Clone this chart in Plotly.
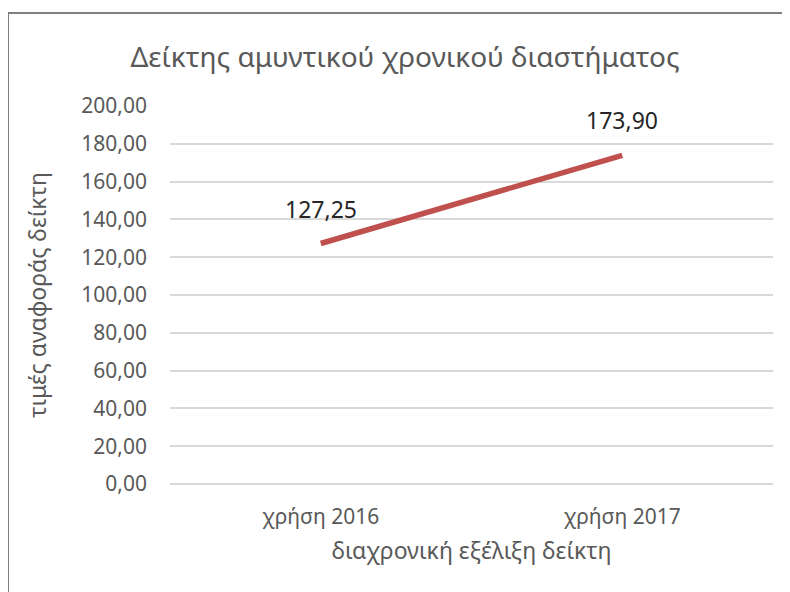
import plotly.graph_objects as go

categories = ["χρήση 2016", "χρήση 2017"]
values = [127.25, 173.90]
y_ticks = [0, 20, 40, 60, 80, 100, 120, 140, 160, 180, 200]

W, H = 790, 592
# page body adds ~8px offset, so figure coords are shifted
L, R, T, B = 162, 25, 98, 116
pw, ph = W - L - R, H - T - B

FONT = "Noto Sans"
GRAY = "#595959"

fig = go.Figure()
fig.add_trace(go.Scatter(
    x=categories, y=values, mode="lines",
    line=dict(color="#C0504D", width=5.5),
    hoverinfo="skip", showlegend=False,
))

for c, v in zip(categories, values):
    fig.add_annotation(
        x=c, y=v, text=f"{v:.2f}".replace(".", ","),
        showarrow=False, yshift=35,
        font=dict(family=FONT, size=23, color="#262626"),
    )

def px_x(p):
    return (p - L) / pw

def px_y(p):
    return 1 - (p - T) / ph

fig.add_shape(
    type="rect", xref="paper", yref="paper",
    x0=px_x(0), x1=px_x(820), y0=px_y(5), y1=px_y(620),
    line=dict(color="#7f7f7f", width=2), fillcolor="rgba(0,0,0,0)", layer="below",
)

fig.update_layout(
    width=W, height=H,
    margin=dict(l=L, r=R, t=T, b=B, autoexpand=False),
    paper_bgcolor="white", plot_bgcolor="white",
    separators=",.",
    font=dict(family=FONT, color=GRAY),
    title=dict(
        text="Δείκτης αμυντικού χρονικού διαστήματος",
        xref="container", x=397 / W, xanchor="center",
        yref="container", y=1 - 49 / H, yanchor="middle",
        font=dict(family=FONT, size=28, color=GRAY),
    ),
    xaxis=dict(
        type="category", range=[-0.5, 1.5],
        showgrid=False, showline=False, zeroline=False, ticks="",
        ticklabelstandoff=18,
        tickfont=dict(family=FONT, size=21, color=GRAY),
        title=dict(text="διαχρονική εξέλιξη δείκτη",
                   font=dict(family=FONT, size=23, color=GRAY), standoff=13),
    ),
    yaxis=dict(
        range=[0, 200], tickvals=y_ticks, tickformat=".2f",
        showgrid=True, gridcolor="#d9d9d9", gridwidth=1.5,
        zeroline=True, zerolinecolor="#d9d9d9", zerolinewidth=1.5,
        showline=False, ticks="", ticklabelstandoff=22,
        tickfont=dict(family=FONT, size=21, color=GRAY),
        title=dict(text="τιμές αναφοράς δείκτη",
                   font=dict(family=FONT, size=23, color=GRAY), standoff=28),
    ),
)

fig.write_html("out.html")
